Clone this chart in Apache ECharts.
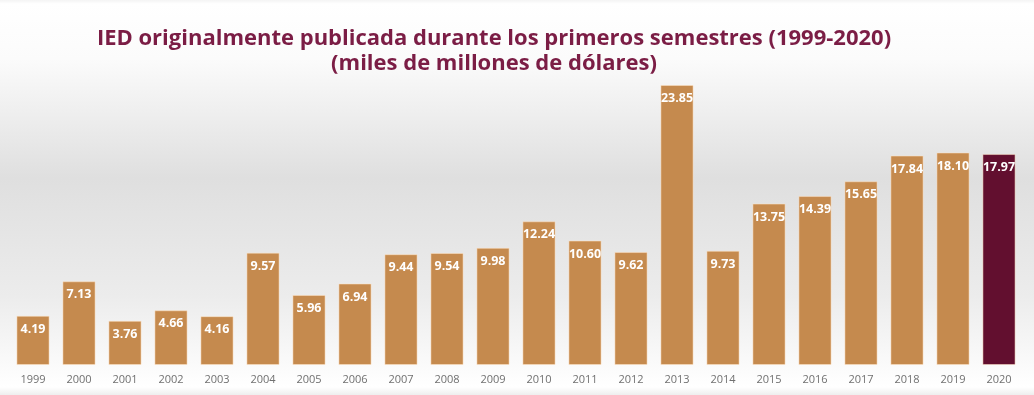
<!DOCTYPE html>
<html><head><meta charset="utf-8">
<script src="https://cdn.jsdelivr.net/npm/echarts@6/dist/echarts.min.js"></script>
<style>html,body{margin:0;padding:0;background:#fff}#c{width:1034px;height:395px}</style>
</head><body><div id="c"></div>
<script>
const years = ['1999','2000','2001','2002','2003','2004','2005','2006','2007','2008','2009','2010','2011','2012','2013','2014','2015','2016','2017','2018','2019','2020'];
const values = [4.19,7.13,3.76,4.66,4.16,9.57,5.96,6.94,9.44,9.54,9.98,12.24,10.60,9.62,23.85,9.73,13.75,14.39,15.65,17.84,18.10,17.97];
const titleText = 'IED originalmente publicada durante los primeros semestres (1999-2020)\n(miles de millones de dólares)';

const chart = echarts.init(document.getElementById('c'));
chart.setOption({
  backgroundColor: {type:'linear',x:0,y:0,x2:0,y2:1,colorStops:[
    {offset:0,color:'#f4f4f4'},{offset:0.01,color:'#ffffff'},{offset:0.15,color:'#fbfbfb'},{offset:0.45,color:'#dfdfdf'},{offset:0.75,color:'#ececec'},{offset:0.98,color:'#ffffff'},{offset:1,color:'#eeeeee'}]},
  animation:false,
  title:{text:titleText,left:489,textAlign:'center',top:21,
    textStyle:{color:'#7b1d45',fontFamily:'Open Sans',fontWeight:'bold',fontSize:22,lineHeight:25}},
  grid:{left:10,right:12,top:85,bottom:30},
  xAxis:{type:'category',data:years,axisLine:{show:false},axisTick:{show:false},
    axisLabel:{color:'#707070',fontFamily:'Open Sans',fontSize:11,margin:9}},
  yAxis:{type:'value',min:0,max:23.85,show:false,splitLine:{show:false}},
  series:[{type:'bar',barWidth:'72%',
    data:values.map((v,i)=>({value:v,itemStyle:{color:i===values.length-1?'#620f2f':'#c58a4e'}})),
    itemStyle:{borderColor:'rgba(255,230,200,0.5)',borderWidth:1},
    label:{show:true,position:'insideTop',distance:7,color:'#fff',fontFamily:'Open Sans',fontWeight:'bold',fontSize:12.5,
      formatter:p=>p.value.toFixed(2)}}]
});
</script></body></html>
